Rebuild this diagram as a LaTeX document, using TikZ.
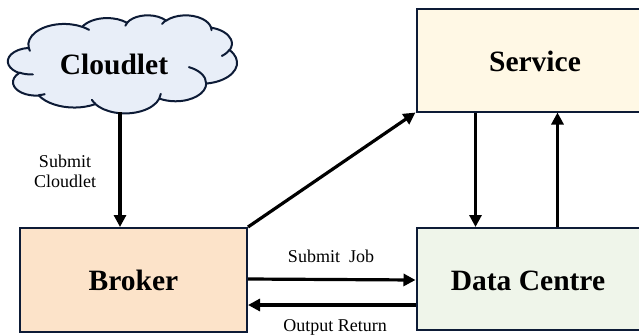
\documentclass[tikz,border=0pt]{standalone}
\usepackage{fontspec}
\setmainfont{Liberation Serif}
\usetikzlibrary{arrows.meta}

\definecolor{edge}{HTML}{0D1B36}
\definecolor{cloudfill}{HTML}{E8EEF8}
\definecolor{servicefill}{HTML}{FFF8E5}
\definecolor{brokerfill}{HTML}{FCE3C9}
\definecolor{dcfill}{HTML}{EFF5EA}

\tikzset{
  box/.style={draw=edge, line width=2pt, minimum width=#1, minimum height=104pt,
    inner sep=0pt, font=\fontsize{29.5}{32}\selectfont\bfseries},
  cloudline/.style={draw=edge, line width=2pt, line join=round, line cap=round},
  flow/.style={line width=3.2pt, -{Triangle[length=12pt,width=12pt]}},
  lbl/.style={font=\fontsize{18}{21}\selectfont, align=center, inner sep=0pt}
}

\begin{document}
\begin{tikzpicture}[x=1pt,y=-1pt,
  % elliptic arcs given by visual angles: parametric start angle and sweep
  declare function={ps(\a,\b,\c)=atan2(\a*sin(\c),\b*cos(\c));
                    pd(\a,\b,\c,\d)=mod(ps(\a,\b,\c+\d)-ps(\a,\b,\c)+720,360);}]
  \useasboundingbox (0,0) rectangle (639,335);

  % cloud outline and its inner curls
  \begin{scope}[shift={(8,15)}, x=5.30pt, y=-2.27pt]
    \draw[cloudline, fill=cloudfill] (3.900,14.370)
      arc[x radius=6.753, y radius=9.190, start angle={ps(6.753,9.190,-190.4875)}, delta angle={pd(6.753,9.190,-190.4875,123.7805)}]
      arc[x radius=5.333, y radius=7.267, start angle={ps(5.333,7.267,-144.1024)}, delta angle={pd(5.333,7.267,-144.1024,89.9452)}]
      arc[x radius=4.365, y radius=5.945, start angle={ps(4.365,5.945,-145.8079)}, delta angle={pd(4.365,5.945,-145.8079,99.7230)}]
      arc[x radius=4.857, y radius=6.595, start angle={ps(4.857,6.595,-130.9861)}, delta angle={pd(4.857,6.595,-130.9861,117.2417)}]
      arc[x radius=5.333, y radius=7.273, start angle={ps(5.333,7.273,-78.7089)}, delta angle={pd(5.333,7.273,-78.7089,109.0269)}]
      arc[x radius=6.775, y radius=9.220, start angle={ps(6.775,9.220,-46.2673)}, delta angle={pd(6.775,9.220,-46.2673,130.2690)}]
      arc[x radius=5.785, y radius=7.867, start angle={ps(5.785,7.867,0.6250)}, delta angle={pd(5.785,7.867,0.6250,114.0333)}]
      arc[x radius=6.752, y radius=9.215, start angle={ps(6.752,9.215,22.4516)}, delta angle={pd(6.752,9.215,22.4516,115.1726)}]
      arc[x radius=7.720, y radius=10.543, start angle={ps(7.720,10.543,66.2426)}, delta angle={pd(7.720,10.543,66.2426,75.7110)}]
      arc[x radius=4.360, y radius=5.918, start angle={ps(4.360,5.918,-274.9421)}, delta angle={pd(4.360,5.918,-274.9421,146.7356)}]
      arc[x radius=4.345, y radius=5.945, start angle={ps(4.345,5.945,-246.8285)}, delta angle={pd(4.345,5.945,-246.8285,152.5189)}]
      -- cycle;
    \draw[cloudline]
      (4.693,26.177) arc[x radius=4.345, y radius=5.945, start angle={ps(4.345,5.945,86.7420)}, delta angle={pd(4.345,5.945,86.7420,26.4295)}]
      (6.928,34.899) arc[x radius=4.360, y radius=5.918, start angle={ps(4.360,5.918,73.6105)}, delta angle={pd(4.360,5.918,73.6105,11.4475)}]
      (16.478,39.090) arc[x radius=6.752, y radius=9.215, start angle={ps(6.752,9.215,137.6242)}, delta angle={pd(6.752,9.215,137.6242,14.0811)}]
      (28.827,34.751) arc[x radius=6.752, y radius=9.215, start angle={ps(6.752,9.215,6.4533)}, delta angle={pd(6.752,9.215,6.4533,15.9984)}]
      (34.129,22.954) arc[x radius=5.785, y radius=7.867, start angle={ps(5.785,7.867,-70.2924)}, delta angle={pd(5.785,7.867,-70.2924,70.9174)}]
      (41.798,15.354) arc[x radius=5.333, y radius=7.273, start angle={ps(5.333,7.273,30.3180)}, delta angle={pd(5.333,7.273,30.3180,27.7515)}]
      (38.324,5.426) arc[x radius=4.857, y radius=6.595, start angle={ps(4.857,6.595,-13.7443)}, delta angle={pd(4.857,6.595,-13.7443,14.8589)}]
      (29.078,3.952) arc[x radius=4.857, y radius=6.595, start angle={ps(4.857,6.595,-149.1815)}, delta angle={pd(4.857,6.595,-149.1815,18.1954)}]
      (22.141,4.720) arc[x radius=4.365, y radius=5.945, start angle={ps(4.365,5.945,-163.4943)}, delta angle={pd(4.365,5.945,-163.4943,17.6864)}]
      (14.000,5.192) arc[x radius=6.753, y radius=9.190, start angle={ps(6.753,9.190,-66.7070)}, delta angle={pd(6.753,9.190,-66.7070,12.3194)}]
      (4.127,15.789) arc[x radius=6.753, y radius=9.190, start angle={ps(6.753,9.190,157.6544)}, delta angle={pd(6.753,9.190,157.6544,11.8582)}];
  \end{scope}
  \node[font=\fontsize{29.5}{32}\selectfont\bfseries] (cloud) at (114,64) {Cloudlet};
  \coordinate (cloudbase) at (120,112);

  % components (the right-hand boxes run past the right edge)
  \node[box=229pt, minimum height=103pt, fill=servicefill] (service) at (531,60) {};
  \node[font=\fontsize{29.5}{32}\selectfont\bfseries] (servicetext) at (535,61) {Service};
  \node[box=227pt, fill=brokerfill] (broker) at (133.5,280) {Broker};
  \node[box=229pt, minimum height=102pt, fill=dcfill] (dc) at (531,279) {};
  \node[font=\fontsize{29.5}{32}\selectfont\bfseries] (dctext) at (528,281) {Data Centre};

  % message flows
  \draw[flow] (cloudbase) -- (cloudbase |- broker.north);
  \draw[flow] (broker.north east) -- (service.south west);
  \draw[flow] ([xshift=60pt]service.south west) -- ([xshift=60pt]dc.north west);
  \draw[flow] ([xshift=142pt]dc.north west) -- ([xshift=142pt]service.south west);
  \draw[flow] ([yshift=1pt]broker.east) -- (broker.east -| dc.west);
  \draw[flow] ([yshift=-26pt]dc.west) -- ([yshift=-26pt]dc.west -| broker.east);

  % labels
  \node[lbl] (lcloud) at (65,171) {Submit\\[-1pt]Cloudlet};
  \node[lbl] (ljob) at (331,256) {Submit\ \ Job};
  \node[lbl] (lout) at (335,327) {Output Return};
\end{tikzpicture}
\end{document}
